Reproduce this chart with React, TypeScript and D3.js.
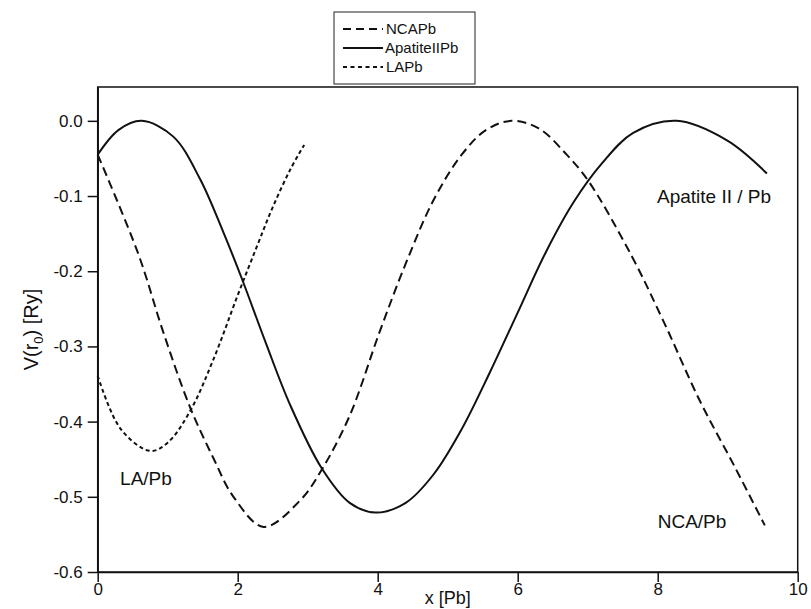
import React, { useEffect, useRef } from "react";
import * as d3 from "d3";

// curve readings, [x, V]
const ncaPb: [number, number][] = [
  [0, -0.045], [0.58, -0.177], [0.94, -0.282], [1.32, -0.381], [1.65, -0.448],
  [1.94, -0.5], [2.37, -0.54], [2.89, -0.505], [3.2, -0.464], [3.6, -0.392],
  [4.03, -0.28], [4.4, -0.19], [4.8, -0.105], [5.2, -0.045], [5.55, -0.012],
  [5.91, 0.0], [6.3, -0.01], [6.7, -0.045], [7.01, -0.08], [7.63, -0.18],
  [8.1, -0.27], [8.6, -0.372], [9.1, -0.46], [9.53, -0.538],
];

const apatiteIIPb: [number, number][] = [
  [0, -0.045], [0.3, -0.012], [0.63, 0.0], [1.08, -0.021], [1.46, -0.077],
  [1.79, -0.147], [2.06, -0.21], [2.4, -0.295], [2.75, -0.378], [3.2, -0.462],
  [3.6, -0.508], [3.97, -0.521], [4.4, -0.508], [4.8, -0.47], [5.2, -0.41],
  [5.6, -0.335], [6.0, -0.255], [6.4, -0.175], [6.8, -0.108], [7.2, -0.057],
  [7.65, -0.016], [8.27, 0.0], [8.99, -0.026], [9.56, -0.07],
];

const laPb: [number, number][] = [
  [0, -0.339], [0.33, -0.41], [0.75, -0.439], [1.0, -0.428], [1.32, -0.386],
  [1.65, -0.318], [2.0, -0.232], [2.27, -0.168], [2.5, -0.115], [2.75, -0.065],
  [2.95, -0.032],
];

const xTicks = [0, 2, 4, 6, 8, 10];
const xMinorTicks = [1, 3, 5, 7, 9];
const yTicks = [0.0, -0.1, -0.2, -0.3, -0.4, -0.5, -0.6];
const yMinorTicks = [-0.05, -0.15, -0.25, -0.35, -0.45, -0.55];

const legendNames = ["NCAPb", "ApatiteIIPb", "LAPb"];
const legendDash = ["8,5", "none", "4,3.5"];

const notes = [
  { text: "Apatite II / Pb", x: 7.99, v: -0.1 },
  { text: "LA/Pb", x: 0.32, v: -0.476 },
  { text: "NCA/Pb", x: 8.0, v: -0.532 },
];

const FONT = "'Liberation Sans', Arial, sans-serif";

function PotentialChart() {
  const svgRef = useRef<SVGSVGElement>(null);

  useEffect(() => {
    const svg = d3.select(svgRef.current);
    svg.selectAll("*").remove();

    const xScale = d3.scaleLinear().domain([0, 10]).range([97.7, 797.7]);
    const yScale = d3.scaleLinear().domain([-0.6, 0.045]).range([572, 87]);

    // frame
    svg
      .append("rect")
      .attr("x", xScale(0))
      .attr("y", yScale(0.045))
      .attr("width", xScale(10) - xScale(0))
      .attr("height", yScale(-0.6) - yScale(0.045))
      .attr("fill", "none")
      .attr("stroke", "#111")
      .attr("stroke-width", 1.5);

    // x axis
    const gx = svg.append("g").attr("transform", `translate(0,${yScale(-0.6)})`);
    gx.call(
      d3.axisBottom(xScale).tickValues(xMinorTicks).tickSize(6).tickSizeOuter(0).tickFormat(() => "")
    );
    gx.call(
      d3.axisBottom(xScale).tickValues(xTicks).tickSize(10).tickSizeOuter(0).tickPadding(1)
        .tickFormat((d) => String(d))
    );

    // y axis
    const gy = svg.append("g").attr("transform", `translate(${xScale(0)},0)`);
    gy.call(
      d3.axisLeft(yScale).tickValues(yMinorTicks).tickSize(6).tickSizeOuter(0).tickFormat(() => "")
    );
    gy.call(
      d3.axisLeft(yScale).tickValues(yTicks).tickSize(10).tickSizeOuter(0).tickPadding(5)
        .tickFormat((d) => (+d).toFixed(1))
    );

    svg.selectAll(".domain").attr("stroke", "#111").attr("stroke-width", 1.5);
    svg.selectAll(".tick line").attr("stroke", "#111").attr("stroke-width", 1.5);
    svg
      .selectAll(".tick text")
      .attr("font-family", FONT)
      .attr("font-size", 17)
      .attr("fill", "#111");

    // curves
    const line = d3
      .line<[number, number]>()
      .x((d) => xScale(d[0]))
      .y((d) => yScale(d[1]))
      .curve(d3.curveCatmullRom.alpha(0.5));

    const series = [
      { data: ncaPb, dash: "9,5" },
      { data: apatiteIIPb, dash: "none" },
      { data: laPb, dash: "4,3" },
    ];
    svg
      .selectAll(".curve")
      .data(series)
      .join("path")
      .attr("class", "curve")
      .attr("fill", "none")
      .attr("stroke", "#111")
      .attr("stroke-width", 2)
      .attr("stroke-dasharray", (s) => s.dash)
      .attr("d", (s) => line(s.data));

    // annotations
    svg
      .selectAll(".note")
      .data(notes)
      .join("text")
      .attr("class", "note")
      .attr("x", (d) => xScale(d.x))
      .attr("y", (d) => yScale(d.v))
      .attr("dy", "0.35em")
      .attr("font-family", FONT)
      .attr("font-size", 19)
      .attr("fill", "#111")
      .text((d) => d.text);

    // axis titles
    svg
      .append("text")
      .attr("x", (xScale(0) + xScale(10)) / 2)
      .attr("y", 604)
      .attr("text-anchor", "middle")
      .attr("font-family", FONT)
      .attr("font-size", 18)
      .attr("fill", "#111")
      .text("x [Pb]");

    const yt = svg
      .append("text")
      .attr("transform", `translate(38,${(yScale(0.045) + yScale(-0.6)) / 2}) rotate(-90)`)
      .attr("text-anchor", "middle")
      .attr("font-family", FONT)
      .attr("font-size", 20)
      .attr("fill", "#111");
    yt.append("tspan").text("V(r");
    yt.append("tspan").attr("font-size", 13).attr("dy", 5).text("0");
    yt.append("tspan").attr("dy", -5).text(") [Ry]");

    // legend
    const lg = svg.append("g");
    lg.append("rect")
      .attr("x", 334)
      .attr("y", 12)
      .attr("width", 141)
      .attr("height", 72)
      .attr("fill", "#fff")
      .attr("stroke", "#222")
      .attr("stroke-width", 1);
    const rows = lg
      .selectAll(".row")
      .data(legendNames)
      .join("g")
      .attr("class", "row")
      .attr("transform", (_, i) => `translate(0,${29 + i * 19})`);
    rows
      .append("line")
      .attr("x1", 343)
      .attr("x2", 383)
      .attr("stroke", "#111")
      .attr("stroke-width", 2)
      .attr("stroke-dasharray", (_, i) => legendDash[i]);
    rows
      .append("text")
      .attr("x", (_, i) => (i === 1 ? 385 : 386))
      .attr("dy", "0.35em")
      .attr("font-family", FONT)
      .attr("font-size", 15)
      .attr("fill", "#111")
      .text((d) => d);
  }, []);

  return <svg ref={svgRef} width={811} height={609} style={{ display: "block" }} />;
}

export default function App() {
  return (
    <div style={{ position: "absolute", left: 0, top: 0, background: "#fff" }}>
      <PotentialChart />
    </div>
  );
}
